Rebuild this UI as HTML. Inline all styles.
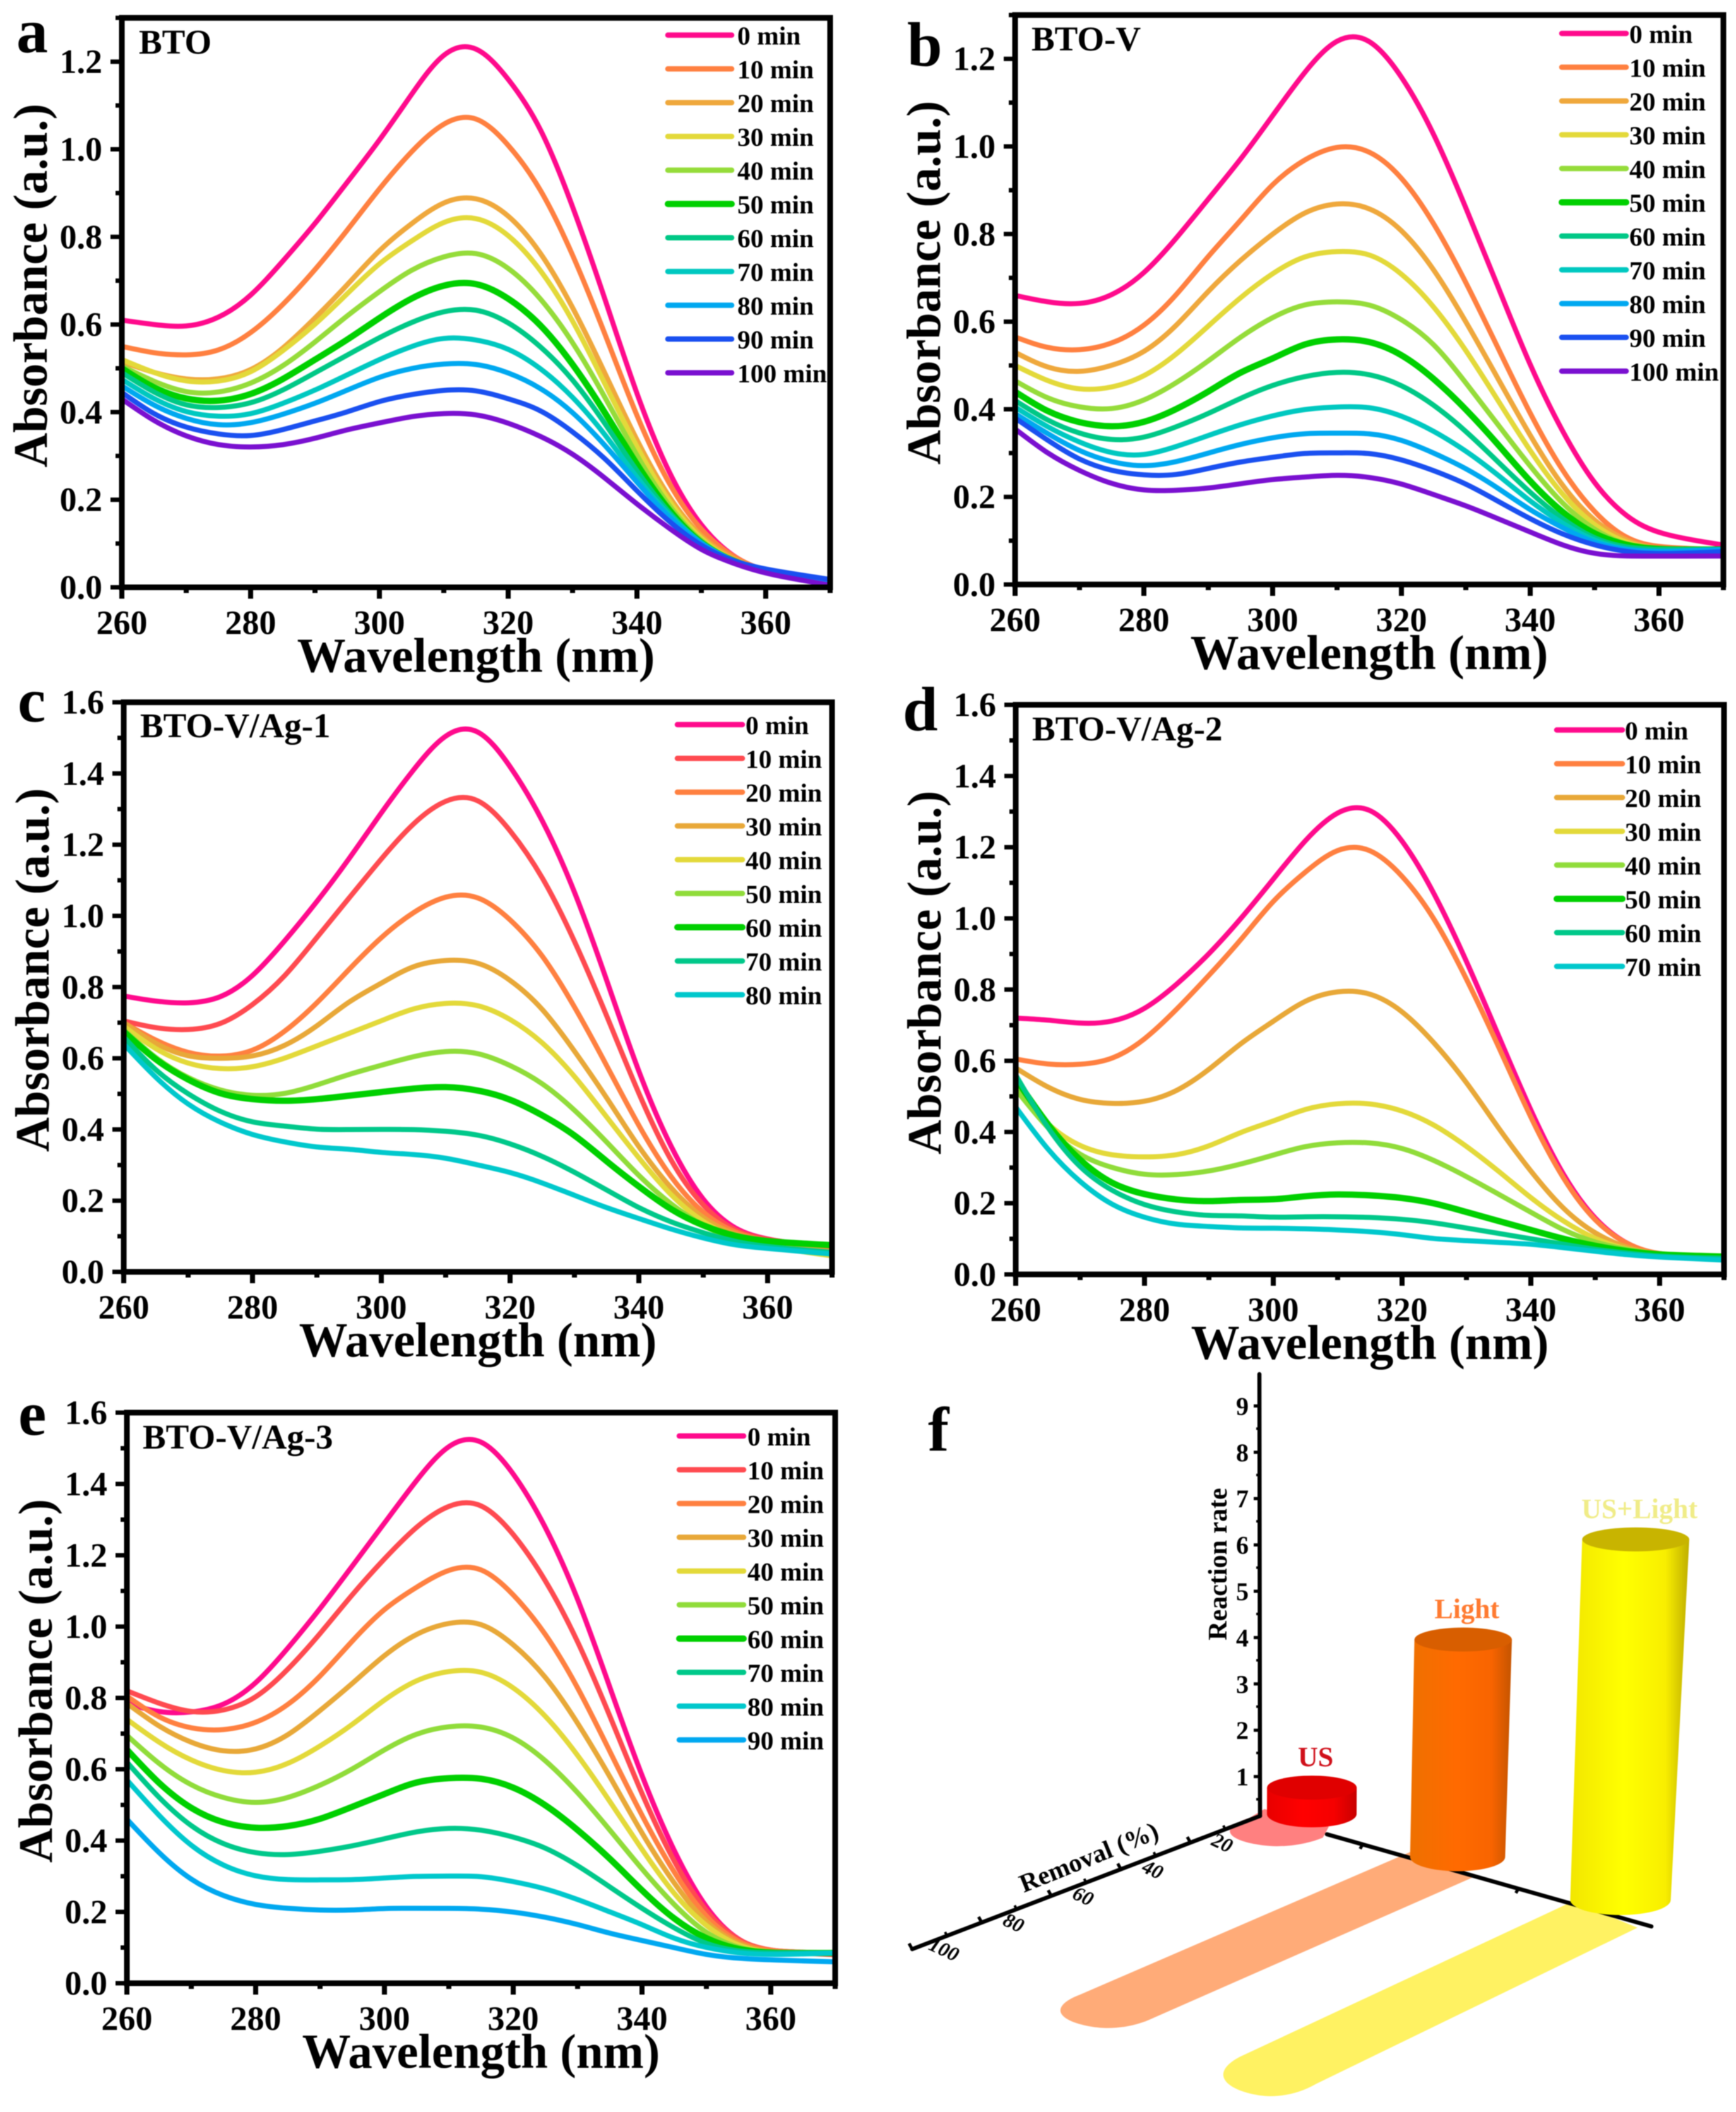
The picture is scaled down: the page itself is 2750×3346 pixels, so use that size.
<!DOCTYPE html>
<html lang="en">
<head>
<meta charset="utf-8">
<title>Absorbance spectra and reaction rates</title>
<style>
  html, body { margin: 0; padding: 0; background: #fff; }
  body { width: 2750px; height: 3346px; overflow: hidden; }
  svg { display: block; filter: blur(0.7px); }
  text { font-family: "Liberation Serif", serif; font-weight: bold; fill: #000; }
</style>
</head>
<body>
<svg id="figure" xmlns="http://www.w3.org/2000/svg" width="2750" height="3346" viewBox="0 0 2750 3346"></svg>
<script>
const wavelengths = [260,265,270,275,280,285,290,295,300,305,310,315,320,325,330,335,340,345,350,355,360,370];
const xTickLabels = [260,280,300,320,340,360];

const timesA = ['0 min','10 min','20 min','30 min','40 min','50 min','60 min','70 min','80 min','90 min','100 min'];
const seriesA = [
  [.61,.60,.595,.615,.665,.745,.83,.925,1.02,1.125,1.22,1.235,1.16,1.05,.87,.66,.44,.26,.14,.07,.035,.005],
  [.55,.535,.53,.54,.58,.645,.725,.815,.91,.995,1.06,1.075,1.01,.91,.76,.58,.39,.235,.13,.07,.035,.01],
  [.515,.49,.475,.475,.495,.545,.615,.69,.77,.83,.88,.89,.85,.765,.64,.49,.335,.205,.115,.065,.035,.01],
  [.52,.49,.47,.47,.49,.54,.60,.67,.74,.79,.835,.845,.805,.725,.61,.465,.32,.195,.11,.06,.035,.01],
  [.505,.47,.445,.445,.465,.505,.56,.62,.675,.725,.755,.765,.73,.66,.56,.435,.30,.185,.105,.06,.035,.01],
  [.50,.455,.43,.425,.44,.475,.52,.565,.615,.66,.69,.695,.66,.60,.51,.40,.28,.175,.10,.06,.035,.01],
  [.49,.445,.415,.41,.42,.45,.49,.53,.57,.605,.63,.635,.605,.55,.475,.375,.265,.17,.10,.06,.035,.012],
  [.475,.43,.40,.39,.395,.42,.45,.485,.52,.55,.57,.565,.545,.50,.435,.35,.25,.165,.10,.06,.035,.012],
  [.46,.415,.385,.37,.375,.395,.42,.45,.48,.50,.51,.51,.49,.455,.40,.325,.24,.16,.10,.06,.04,.015],
  [.445,.395,.365,.35,.345,.36,.38,.40,.425,.44,.45,.45,.43,.405,.355,.295,.22,.15,.095,.06,.04,.018],
  [.43,.38,.345,.325,.32,.325,.34,.36,.375,.39,.397,.395,.375,.345,.305,.25,.19,.135,.085,.055,.03,.005]
];
const colorsA = ['#ff0a8c','#ff8040','#efa83c','#e3d93a','#95dc3a','#00d000','#00c886','#00c8c0','#00a8f0','#1a50f0','#7a10d0'];

const timesB = ['0 min','10 min','20 min','30 min','40 min','50 min','60 min','70 min','80 min','90 min','100 min'];
const seriesB = [
  [.66,.645,.64,.66,.71,.79,.88,.97,1.07,1.17,1.245,1.245,1.16,1.03,.86,.68,.50,.35,.23,.155,.115,.09],
  [.565,.54,.535,.55,.59,.66,.75,.83,.915,.97,1.0,.99,.93,.825,.69,.54,.39,.26,.165,.105,.085,.08],
  [.53,.495,.485,.50,.53,.59,.67,.74,.80,.85,.87,.86,.81,.72,.60,.47,.34,.225,.145,.10,.08,.08],
  [.50,.465,.445,.45,.475,.525,.59,.655,.71,.75,.76,.755,.71,.635,.535,.42,.305,.205,.135,.095,.08,.08],
  [.465,.425,.405,.40,.42,.46,.51,.565,.61,.64,.645,.64,.605,.55,.46,.365,.27,.185,.125,.09,.08,.075],
  [.44,.395,.37,.36,.37,.40,.44,.485,.515,.55,.56,.555,.525,.47,.40,.32,.235,.165,.115,.09,.08,.08],
  [.42,.375,.345,.33,.335,.36,.39,.425,.455,.475,.485,.48,.455,.41,.35,.28,.21,.15,.105,.085,.08,.08],
  [.405,.36,.325,.30,.295,.315,.34,.365,.385,.40,.405,.405,.385,.35,.305,.25,.19,.14,.10,.08,.075,.08],
  [.39,.345,.305,.28,.27,.28,.30,.32,.335,.345,.345,.345,.33,.30,.265,.22,.17,.13,.095,.08,.075,.08],
  [.38,.33,.285,.26,.25,.25,.265,.28,.29,.30,.30,.30,.285,.26,.23,.19,.15,.115,.09,.075,.07,.075],
  [.355,.30,.26,.23,.215,.215,.22,.23,.24,.245,.25,.245,.23,.205,.18,.15,.12,.09,.07,.065,.065,.065]
];
const colorsB = ['#ff0a8c','#ff8040','#efa83c','#e3d93a','#95dc3a','#00d000','#00c886','#00c8c0','#00a8f0','#1a50f0','#7a10d0'];

const timesC = ['0 min','10 min','20 min','30 min','40 min','50 min','60 min','70 min','80 min'];
const seriesC = [
  [.775,.76,.755,.77,.83,.93,1.04,1.16,1.29,1.41,1.51,1.525,1.42,1.27,1.07,.82,.56,.35,.20,.12,.09,.065],
  [.705,.685,.68,.695,.75,.83,.94,1.05,1.16,1.26,1.325,1.33,1.24,1.11,.93,.72,.50,.31,.185,.115,.09,.065],
  [.70,.65,.615,.605,.62,.675,.755,.85,.94,1.01,1.055,1.055,.99,.89,.745,.58,.41,.265,.165,.11,.085,.06],
  [.70,.64,.605,.60,.605,.635,.69,.76,.81,.86,.875,.87,.82,.74,.62,.49,.35,.235,.15,.105,.08,.055],
  [.69,.625,.585,.57,.575,.60,.635,.67,.705,.74,.755,.75,.71,.645,.55,.435,.32,.215,.14,.095,.07,.045],
  [.68,.60,.545,.51,.495,.50,.525,.555,.58,.605,.62,.615,.58,.53,.455,.365,.27,.19,.13,.09,.07,.05],
  [.675,.595,.54,.50,.485,.48,.485,.495,.505,.515,.52,.51,.485,.44,.385,.31,.24,.175,.13,.10,.085,.075],
  [.66,.565,.50,.45,.42,.41,.40,.40,.40,.40,.395,.385,.36,.325,.28,.23,.18,.14,.11,.085,.07,.055],
  [.64,.545,.47,.42,.385,.365,.35,.345,.335,.33,.32,.30,.28,.25,.215,.18,.15,.12,.095,.075,.065,.05]
];
const colorsC = ['#ff0a8c','#ff4a50','#ff8040','#e8a838','#e3d93a','#90dc3a','#00d000','#00c88a','#00c8cc'];

const timesD = ['0 min','10 min','20 min','30 min','40 min','50 min','60 min','70 min'];
const seriesD = [
  [.72,.715,.705,.71,.745,.815,.90,1.00,1.11,1.22,1.30,1.31,1.22,1.07,.88,.67,.46,.28,.155,.085,.055,.05],
  [.605,.59,.59,.605,.66,.745,.84,.94,1.05,1.13,1.195,1.195,1.12,1.0,.83,.64,.44,.27,.15,.085,.055,.05],
  [.58,.525,.49,.48,.485,.515,.575,.65,.71,.77,.795,.79,.74,.65,.54,.41,.29,.185,.115,.075,.055,.05],
  [.52,.42,.36,.335,.33,.335,.36,.40,.43,.465,.48,.48,.46,.42,.36,.29,.215,.15,.10,.07,.055,.045],
  [.52,.41,.335,.30,.28,.28,.29,.31,.335,.36,.37,.37,.355,.32,.275,.225,.175,.125,.09,.07,.055,.045],
  [.55,.42,.32,.255,.225,.21,.205,.21,.21,.22,.225,.222,.215,.20,.175,.15,.125,.10,.08,.065,.055,.05],
  [.56,.41,.30,.235,.195,.175,.165,.165,.16,.162,.162,.16,.155,.145,.13,.115,.10,.085,.07,.06,.05,.045],
  [.47,.35,.26,.195,.16,.14,.135,.13,.13,.128,.125,.12,.112,.10,.095,.09,.085,.075,.065,.055,.048,.04]
];
const colorsD = ['#ff0a8c','#ff8040','#e8a838','#e3d93a','#90dc3a','#00d000','#00c88a','#00c8cc'];

const timesE = ['0 min','10 min','20 min','30 min','40 min','50 min','60 min','70 min','80 min','90 min'];
const seriesE = [
  [.785,.76,.76,.78,.84,.94,1.05,1.17,1.29,1.41,1.51,1.525,1.43,1.28,1.08,.83,.58,.37,.21,.12,.09,.085],
  [.82,.785,.76,.765,.80,.88,.98,1.09,1.19,1.28,1.34,1.345,1.26,1.13,.96,.75,.53,.34,.20,.12,.09,.08],
  [.805,.745,.715,.71,.73,.78,.86,.96,1.05,1.11,1.16,1.165,1.09,.98,.83,.65,.47,.31,.185,.115,.09,.085],
  [.785,.72,.675,.65,.655,.695,.765,.84,.92,.98,1.01,1.01,.95,.86,.73,.58,.42,.28,.17,.11,.085,.085],
  [.74,.675,.625,.595,.59,.615,.665,.725,.795,.85,.875,.875,.83,.75,.64,.51,.375,.25,.16,.105,.085,.085],
  [.695,.615,.555,.52,.505,.52,.555,.60,.655,.70,.72,.72,.69,.625,.535,.43,.32,.22,.14,.10,.085,.085],
  [.655,.56,.49,.45,.435,.44,.46,.495,.53,.565,.575,.575,.55,.50,.43,.35,.26,.18,.125,.095,.085,.085],
  [.62,.52,.44,.39,.365,.36,.37,.385,.405,.425,.435,.43,.41,.38,.33,.27,.21,.155,.11,.09,.085,.085],
  [.57,.47,.385,.33,.30,.29,.29,.29,.295,.30,.30,.30,.285,.265,.235,.20,.165,.125,.10,.085,.08,.085],
  [.46,.365,.29,.245,.22,.21,.205,.205,.21,.21,.21,.208,.20,.185,.165,.14,.12,.10,.08,.07,.065,.06]
];
const colorsE = ['#ff0a8c','#ff4a50','#ff8040','#e8a838','#e3d93a','#90dc3a','#00d000','#00c88a','#00c8cc','#00a8f0'];

const yTicksLow = [0,0.2,0.4,0.6,0.8,1.0,1.2];
const yTicksHigh = [0,0.2,0.4,0.6,0.8,1.0,1.2,1.4,1.6];

const barCategories = ['US','Light','US+Light'];
const barRates = [0.47,4.66,7.8];
const barRemovals = [10,100,100];
const rateTicks = [1,2,3,4,5,6,7,8,9];
const removalTicks = [20,40,60,80,100];

const svg = document.getElementById('figure');
const NS = 'http://www.w3.org/2000/svg';

function make(tag, attrs, parent) {
  const node = document.createElementNS(NS, tag);
  for (const k in attrs) node.setAttribute(k, attrs[k]);
  (parent || svg).appendChild(node);
  return node;
}
function label(str, x, y, size, attrs, parent) {
  const node = make('text', Object.assign({x: x, y: y, 'font-size': size}, attrs || {}), parent);
  node.textContent = str;
  return node;
}
/* Uniform cubic B-spline through lightly sharpened control points: keeps the curve smooth between read-off values. */
function smoothPath(pts) {
  const n = pts.length;
  const ctrl = pts.map(function (p, i) {
    if (i === 0 || i === n - 1) return [p[0], p[1]];
    const avgY = (pts[i - 1][1] + pts[i + 1][1]) / 2;
    return [p[0], p[1] + 0.22 * (p[1] - avgY)];
  });
  const get = function (i) {
    if (i < 0) return [2 * ctrl[0][0] - ctrl[1][0], 2 * ctrl[0][1] - ctrl[1][1]];
    if (i >= n) return [2 * ctrl[n - 1][0] - ctrl[n - 2][0], 2 * ctrl[n - 1][1] - ctrl[n - 2][1]];
    return ctrl[i];
  };
  const knot = function (i, axis) { return (get(i - 1)[axis] + 4 * get(i)[axis] + get(i + 1)[axis]) / 6; };
  let d = 'M' + knot(0, 0).toFixed(1) + ' ' + knot(0, 1).toFixed(1);
  for (let i = 0; i < n - 1; i++) {
    const a = get(i), b = get(i + 1);
    d += 'C' + ((2 * a[0] + b[0]) / 3).toFixed(1) + ' ' + ((2 * a[1] + b[1]) / 3).toFixed(1) + ' ' +
         ((a[0] + 2 * b[0]) / 3).toFixed(1) + ' ' + ((a[1] + 2 * b[1]) / 3).toFixed(1) + ' ' +
         knot(i + 1, 0).toFixed(1) + ' ' + knot(i + 1, 1).toFixed(1);
  }
  return d;
}

function drawPanel(cfg) {
  const g = make('g', {});
  
  

  const xAt = function (w) { return cfg.x0 + (w - 260) * cfg.pxPerNm; };
  const yAt = function (v) { return cfg.y0 - v * cfg.pxPerUnit; };
  const right = xAt(370), top = yAt(cfg.yMax);
  const clipId = 'clip-' + cfg.letter;
  const defs = make('defs', {}, g);
  const clip = make('clipPath', {id: clipId}, defs);
  make('rect', {x: cfg.x0, y: top, width: right - cfg.x0, height: cfg.y0 - top}, clip);

  const curves = make('g', {'clip-path': 'url(#' + clipId + ')', fill: 'none', 'stroke-linecap': 'round'}, g);
  
  
  cfg.series.forEach(function (vals, i) {
    const pts = vals.map(function (v, j) { return [xAt(wavelengths[j]), yAt(v)]; });
    const isGreen = cfg.colors[i] === '#00d000';
    const path = make('path', {d: smoothPath(pts), stroke: cfg.colors[i], 'stroke-width': isGreen ? 10 : 8}, curves);
    
    
  });

  const frame = make('rect', {x: cfg.x0, y: top, width: right - cfg.x0, height: cfg.y0 - top, fill: 'none', stroke: '#000', 'stroke-width': 9}, g);
  
  

  for (let w = 260; w <= 370; w += 10) {
    const major = (w - 260) % 20 === 0 && w < 370;
    const tick = make('line', {x1: xAt(w), x2: xAt(w), y1: cfg.y0, y2: cfg.y0 + (major ? 18 : 9), stroke: '#000', 'stroke-width': 8}, g);
    
    
  }
  xTickLabels.forEach(function (w) {
    const t = label(String(w), xAt(w), cfg.y0 + 74, 54, {'text-anchor': 'middle'}, g);
    
    
  });
  for (let k = 0; k <= cfg.yMax * 10 + 0.01; k++) {
    const v = k / 10;
    const major = k % 2 === 0;
    const tick = make('line', {x1: cfg.x0, x2: cfg.x0 - (major ? 18 : 10), y1: yAt(v), y2: yAt(v), stroke: '#000', 'stroke-width': 7}, g);
    
    
  }
  cfg.yTicks.forEach(function (v) {
    const t = label(v.toFixed(1), cfg.x0 - 31, yAt(v) + 18, 54, {'text-anchor': 'end'}, g);
    
    
  });

  const xTitle = label('Wavelength (nm)', cfg.x0 + 561, cfg.y0 + 134, 77, {'text-anchor': 'middle'}, g);
  
  

  const yMid = (top + cfg.y0) / 2 - 27;
  const yTitleX = cfg.x0 - 119;
  const yTitle = label('Absorbance (a.u.)', yTitleX, yMid, 76, {'text-anchor': 'middle', transform: 'rotate(-90 ' + yTitleX + ' ' + yMid + ')'}, g);
  
  

  const panelLetter = label(cfg.letter, cfg.letterX, cfg.letterY, 100, {}, g);
  
  

  const sample = label(cfg.title, cfg.titleX, cfg.titleY, 55, {}, g);
  
  

  const legend = make('g', {}, g);
  
  
  cfg.times.forEach(function (time, i) {
    const y = cfg.legY + i * 53.5;
    const swatch = make('line', {x1: cfg.legX1, x2: cfg.legX2, y1: y, y2: y, stroke: cfg.colors[i], 'stroke-width': cfg.colors[i] === '#00d000' ? 10 : 8.5, 'stroke-linecap': 'round'}, legend);
    
    
    const entry = label(time, cfg.legText, y + 15, 41.5, {}, legend);
    
    
  });
}

drawPanel({letter:'a', title:'BTO', times:timesA, series:seriesA, colors:colorsA, yTicks:yTicksLow, yMax:1.3,
  x0:193, pxPerNm:10.2, y0:930.5, pxPerUnit:694, letterX:26, letterY:83, titleX:220, titleY:85,
  legX1:1058, legX2:1159, legText:1168, legY:55.6});
drawPanel({letter:'b', title:'BTO-V', times:timesB, series:seriesB, colors:colorsB, yTicks:yTicksLow, yMax:1.3,
  x0:1608, pxPerNm:10.2, y0:926, pxPerUnit:694, letterX:1437, letterY:104, titleX:1634, titleY:80,
  legX1:2474, legX2:2576, legText:2581, legY:53});
drawPanel({letter:'c', title:'BTO-V/Ag-1', times:timesC, series:seriesC, colors:colorsC, yTicks:yTicksHigh, yMax:1.6,
  x0:196, pxPerNm:10.2, y0:2015, pxPerUnit:564, letterX:28, letterY:1143, titleX:222, titleY:1168,
  legX1:1073, legX2:1176, legText:1181, legY:1148});
drawPanel({letter:'d', title:'BTO-V/Ag-2', times:timesD, series:seriesD, colors:colorsD, yTicks:yTicksHigh, yMax:1.6,
  x0:1609, pxPerNm:10.2, y0:2019, pxPerUnit:564, letterX:1430, letterY:1157, titleX:1635, titleY:1173,
  legX1:2466, legX2:2570, legText:2574, legY:1156.5});
drawPanel({letter:'e', title:'BTO-V/Ag-3', times:timesE, series:seriesE, colors:colorsE, yTicks:yTicksHigh, yMax:1.6,
  x0:201, pxPerNm:10.2, y0:3142, pxPerUnit:565, letterX:29, letterY:2273, titleX:226, titleY:2295,
  legX1:1076, legX2:1178, legText:1184, legY:2275});

/* Panel f: 3D cylinder chart */
(function () {
  const g = make('g', {});
  
  
  const defs = make('defs', {}, g);
  function grad(id, stops) {
    const lg = make('linearGradient', {id: id, x1: 0, x2: 1, y1: 0, y2: 0}, defs);
    stops.forEach(function (s) { make('stop', {offset: s[0], 'stop-color': s[1]}, lg); });
  }
  grad('side-0', [[0,'#e80000'],[.4,'#ff0000'],[.75,'#f50000'],[1,'#c80000']]);
  grad('side-1', [[0,'#ee7000'],[.45,'#ff6a00'],[.8,'#f86400'],[1,'#c45400']]);
  grad('side-2', [[0,'#f2e600'],[.45,'#ffff00'],[.8,'#f8ee00'],[1,'#bfae00']]);
  const topColors = ['#e00000','#d85e00','#c8b400'];
  const shadowColors = ['#ff8080','#ffab78','#fff262'];
  const labelColors = ['#d0101a','#ff7a30','#f0ec88'];

  const fLetter = label('f', 1470, 2298, 100, {}, g);
  
  

  const originX = 1996, originY = 2877;
  const rateY = function (v) { return 2888 - v * 73.4; };
  const removalPoint = function (v) { return [originX - v * 5.51, originY + v * 2.11]; };
  const catBase = function (i) { return [2078 + 231 * i + 13.5 * i * (i - 1), 2874 + 68 * i]; };
  const catAxisStart = [2102, 2906], catAxisEnd = [2616, 3052];
  const catAxisAt = function (t) { return [catAxisStart[0] + t * (catAxisEnd[0] - catAxisStart[0]), catAxisStart[1] + t * (catAxisEnd[1] - catAxisStart[1])]; };

  // shadows (length follows removal)
  barCategories.forEach(function (name, i) {
    const b = catBase(i);
    const sy = [0.85, 1, 1.22][i];
    const ex = b[0] - barRemovals[i] * 5.55, ey = b[1] + barRemovals[i] * [2.8, 2.44, 2.78][i];
    const pt = function (dx, dy) { return (ex + dx) + ' ' + (ey + dy * sy); };
    const shadow = make('path', {
      d: 'M' + (b[0] - 75) + ' ' + (b[1] + [-8, -8, 2][i]) +
         'L' + pt(-43, -26) +
         'C' + pt(-62, -19) + ' ' + pt(-76, -9) + ' ' + pt(-74, 1) +
         'C' + pt(-70, 18) + ' ' + pt(-25, 27) + ' ' + pt(0, 27) +
         'C' + pt(25, 27) + ' ' + pt(50, 22) + ' ' + pt(73, 11) +
         'L' + (b[0] + 27) + ' ' + (b[1] + [20, 31, 44][i]) + 'Z',
      fill: shadowColors[i]
    }, g);
    
    
  });

  // axes
  const axisPts = [
    [[originX, originY], [1995, 2177]],
    [[originX, originY], removalPoint(100)],
    [catAxisStart, catAxisEnd]
  ];
  ['rate-axis', 'removal-axis', 'category-axis'].forEach(function (nm, i) {
    const a = make('line', {x1: axisPts[i][0][0], y1: axisPts[i][0][1], x2: axisPts[i][1][0], y2: axisPts[i][1][1], stroke: '#000', 'stroke-width': 6.5, 'stroke-linecap': 'round'}, g);
    
    
  });
  [0.11, 0.59].forEach(function (t) {
    const p = catAxisAt(t);
    const tick = make('line', {x1: p[0], y1: p[1], x2: p[0] - 4, y2: p[1] + 7, stroke: '#000', 'stroke-width': 5}, g);
    
    
  });

  rateTicks.forEach(function (v) {
    const y = rateY(v);
    const tick = make('line', {x1: originX, x2: originX - 10, y1: y, y2: y, stroke: '#000', 'stroke-width': 5}, g);
    
    
    const minor = make('line', {x1: originX, x2: originX - 6, y1: y + 36, y2: y + 36, stroke: '#000', 'stroke-width': 4}, g);
    
    
    const t = label(String(v), originX - 28, y + 14, 40, {'text-anchor': 'middle'}, g);
    
    
  });

  removalTicks.forEach(function (v) {
    const p = removalPoint(v);
    const tick = make('line', {x1: p[0], y1: p[1], x2: p[0] - 5, y2: p[1] - 9, stroke: '#000', 'stroke-width': 5}, g);
    
    
    const q = removalPoint(v - 10);
    const minor = make('line', {x1: q[0], y1: q[1], x2: q[0] - 3, y2: q[1] - 6, stroke: '#000', 'stroke-width': 4}, g);
    
    
    const lx = p[0] + 46, ly = p[1] + 10;
    const t = label(String(v), lx, ly, 32, {'text-anchor': 'middle', transform: 'rotate(25 ' + lx + ' ' + ly + ')', 'font-style': 'italic'}, g);
    
    
  });

  const rateTitleX = 1943, rateTitleY = 2478;
  const rateTitle = label('Reaction rate', rateTitleX, rateTitleY, 42, {'text-anchor': 'middle', transform: 'rotate(-90 ' + rateTitleX + ' ' + rateTitleY + ')'}, g);
  
  

  const remTitleX = 1730, remTitleY = 2955;
  const remTitle = label('Removal (%)', remTitleX, remTitleY, 41, {'text-anchor': 'middle', transform: 'rotate(-22 ' + remTitleX + ' ' + remTitleY + ')'}, g);
  
  

  // cylinders (height follows rate)
  barCategories.forEach(function (name, i) {
    const b = catBase(i);
    const rxB = 71 + i * 4.3, ryB = 21 + i * 1.5;
    const h = barRates[i] * 72.2 + 8;
    const leanX = h * h * 0.000074;
    const rxT = rxB + h * h * 0.000016;
    const ryT = 19;
    const cx = b[0] + leanX, cy = b[1] - h;
    const side = make('path', {
      d: 'M' + (b[0] - rxB) + ' ' + b[1] + 'A' + rxB + ' ' + ryB + ' 0 0 0 ' + (b[0] + rxB) + ' ' + b[1] +
         'L' + (cx + rxT) + ' ' + cy + 'L' + (cx - rxT) + ' ' + cy + 'Z',
      fill: 'url(#side-' + i + ')'
    }, g);
    
    
    const cap = make('ellipse', {cx: cx, cy: cy, rx: rxT, ry: ryT, fill: topColors[i]}, g);
    
    
    const t = label(name, cx + 6, cy - 34, 44, {'text-anchor': 'middle'}, g);
    t.style.fill = labelColors[i];
    
    
  });
})();
</script>
</body>
</html>
